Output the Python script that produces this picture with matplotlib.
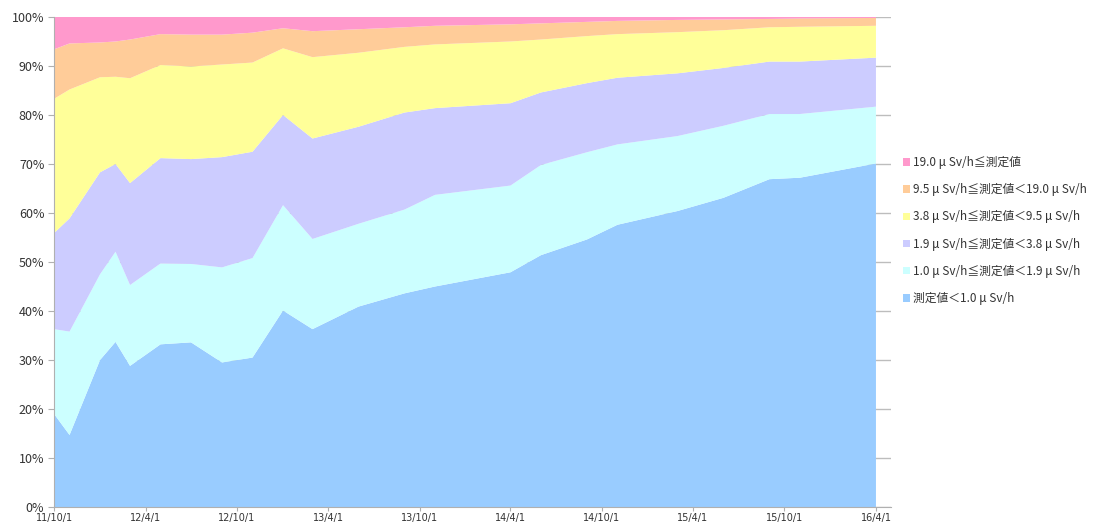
import numpy as np
import pandas as pd
import matplotlib
matplotlib.use('Agg')
import matplotlib.pyplot as plt
import matplotlib.dates as mdates
from matplotlib.patches import Patch
from matplotlib.ticker import MultipleLocator, FuncFormatter

plt.rcParams['font.family'] = ['Noto Sans CJK JP', 'DejaVu Sans']

# measurement dates (yy/m/d)
dates = ['2011-10-01', '2011-11-01', '2012-01-01', '2012-02-01', '2012-03-01',
         '2012-05-01', '2012-07-01', '2012-09-01', '2012-11-01', '2013-01-01',
         '2013-03-01', '2013-06-01', '2013-09-01', '2013-11-01', '2014-04-01',
         '2014-06-01', '2014-09-01', '2014-11-01', '2015-03-01', '2015-06-01',
         '2015-09-01', '2015-11-01', '2016-04-01']

# share of measurement points per dose-rate band (%)
below_1_0 = [19.0, 14.7, 30.0, 33.7, 28.8, 33.2, 33.6, 29.5, 30.5, 40.1, 36.3, 40.9,
             43.6, 45.0, 47.9, 51.4, 54.6, 57.6, 60.4, 63.1, 66.9, 67.2, 70.1]
band_1_0 = [17.3, 21.1, 17.5, 18.4, 16.5, 16.5, 16.0, 19.4, 20.3, 21.5, 18.4, 16.9,
            17.1, 18.7, 17.7, 18.4, 17.8, 16.4, 15.3, 14.7, 13.3, 13.0, 11.6]
band_1_9 = [19.6, 23.1, 20.8, 17.9, 20.8, 21.5, 21.4, 22.5, 21.7, 18.4, 20.5, 19.8,
            19.8, 17.7, 16.8, 14.8, 14.1, 13.6, 12.8, 11.8, 10.7, 10.7, 10.0]
band_3_8 = [27.4, 26.3, 19.4, 17.8, 21.4, 19.0, 18.9, 18.9, 18.2, 13.6, 16.6, 15.1,
            13.4, 13.0, 12.6, 10.8, 9.6, 8.9, 8.4, 7.7, 7.0, 7.1, 6.5]
band_9_5 = [10.1, 9.4, 7.1, 7.2, 7.9, 6.3, 6.5, 6.1, 6.1, 4.1, 5.3, 4.8,
            4.0, 3.8, 3.5, 3.3, 2.9, 2.7, 2.5, 2.2, 1.7, 1.7, 1.6]
above_19_0 = [6.6, 5.4, 5.2, 5.0, 4.6, 3.5, 3.6, 3.6, 3.2, 2.3, 2.9, 2.5,
              2.1, 1.8, 1.5, 1.3, 1.0, 0.8, 0.6, 0.5, 0.4, 0.3, 0.2]

labels = ['測定値＜1.0 μ Sv/h',
          '1.0 μ Sv/h≦測定値＜1.9 μ Sv/h',
          '1.9 μ Sv/h≦測定値＜3.8 μ Sv/h',
          '3.8 μ Sv/h≦測定値＜9.5 μ Sv/h',
          '9.5 μ Sv/h≦測定値＜19.0 μ Sv/h',
          '19.0 μ Sv/h≦測定値']
colors = ['#99ccff', '#ccffff', '#ccccff', '#ffff99', '#ffcc99', '#ff99cc']

x = pd.to_datetime(dates)
data = np.array([below_1_0, band_1_0, band_1_9, band_3_8, band_9_5, above_19_0])
data = data / data.sum(axis=0) * 100  # 100% stacked

fig = plt.figure(figsize=(10.94, 5.24), dpi=100)
ax = fig.add_axes([0.0494, 0.0324, 0.765, 0.9352])

ax.stackplot(x, data, colors=colors, linewidth=0, zorder=2)

ax.set_ylim(0, 100)
ax.set_xlim(pd.Timestamp('2011-10-01'), pd.Timestamp('2016-05-01'))
ax.yaxis.set_major_locator(MultipleLocator(10))
ax.yaxis.set_major_formatter(FuncFormatter(lambda v, p: f'{v:.0f}%'))
ax.xaxis.set_major_locator(mdates.MonthLocator(bymonth=[4, 10]))
ax.xaxis.set_major_formatter(FuncFormatter(
    lambda v, p: f"{mdates.num2date(v).year % 100}/{mdates.num2date(v).month}/1"))

ax.set_axisbelow(True)
ax.grid(axis='y', color='#bdbdbd', linewidth=1, zorder=0)
for s in ['top', 'right']:
    ax.spines[s].set_visible(False)
for s in ['left', 'bottom']:
    ax.spines[s].set_color('#b0b0b0')
ax.tick_params(axis='both', colors='#b0b0b0', labelcolor='#333333')
ax.tick_params(axis='y', length=4, labelsize=9, pad=3)
ax.tick_params(axis='x', length=3, pad=1)
for t in ax.get_xticklabels():
    t.set_fontfamily('DejaVu Sans')
    t.set_fontsize(7)

handles = [Patch(facecolor=c, edgecolor='none') for c in colors]
fig.legend(handles[::-1], labels[::-1], loc='center left',
           bbox_to_anchor=(0.816, 0.56), frameon=False, fontsize=8.5,
           handlelength=0.6, handleheight=0.6, handletextpad=0.2,
           labelspacing=1.2, labelcolor='#333333')

fig.savefig('out.png', dpi=100)
